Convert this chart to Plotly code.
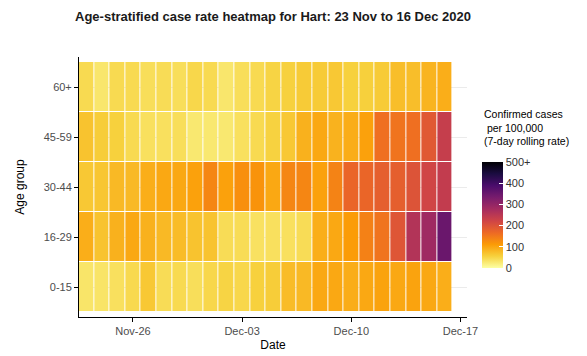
import plotly.graph_objects as go
import pandas as pd

# Dates and age groups
dates = pd.date_range("2020-11-23", "2020-12-16", freq="D").strftime("%Y-%m-%d").tolist()
age_groups = ["0-15", "16-29", "30-44", "45-59", "60+"]

# 7-day rolling case rate per 100,000
rate_0_15 = [32, 33, 38, 46, 65, 42, 45, 40, 48, 52, 48, 56,
             60, 77, 80, 98, 98, 93, 98, 103, 98, 103, 98, 92]
rate_16_29 = [92, 70, 88, 98, 88, 80, 77, 70, 70, 42, 42, 36,
              38, 38, 42, 92, 98, 110, 140, 155, 195, 260, 285, 350]
rate_30_44 = [65, 67, 80, 80, 92, 98, 98, 105, 135, 105, 125, 120,
              98, 135, 135, 105, 138, 172, 172, 182, 182, 198, 220, 240]
rate_45_59 = [70, 60, 56, 45, 38, 38, 40, 28, 28, 28, 38, 45,
              54, 65, 88, 98, 87, 93, 105, 160, 155, 160, 190, 235]
rate_60_plus = [45, 30, 45, 45, 40, 42, 40, 48, 45, 30, 40, 45,
                52, 55, 62, 62, 65, 56, 57, 62, 75, 75, 85, 92]

z = [rate_0_15, rate_16_29, rate_30_44, rate_45_59, rate_60_plus]

cbar_ticks = [0, 100, 200, 300, 400, 500]
cbar_labels = ["0", "100", "200", "300", "400", "500+"]

font = "Liberation Sans, Arial, sans-serif"

# the page body adds an 8px offset, so the figure is 8px smaller
W, H = 587 - 8, 356 - 8
# panel in page pixels: x 79..467, y 57..317
px_w, px_h = 388, 260

fig = go.Figure()
fig.add_trace(go.Heatmap(
    x=dates, y=age_groups, z=z,
    zmin=0, zmax=500,
    colorscale="Inferno", reversescale=True,
    xgap=1, ygap=1,
    hovertemplate="%{x}<br>%{y}: %{z}<extra></extra>",
    colorbar=dict(
        x=(482 - 79) / px_w, xanchor="left", xpad=0,
        y=(317 - 215) / px_h, yanchor="middle", ypad=0,
        lenmode="pixels", len=106, thickness=21,
        outlinewidth=0,
        tickvals=cbar_ticks, ticktext=cbar_labels,
        ticks="inside", ticklen=4, tickcolor="white",
        tickfont=dict(size=11, color="#333333", family=font),
    ),
))

fig.update_layout(
    width=W, height=H,
    margin=dict(l=79 - 8, r=W - (467 - 8), t=57 - 8, b=H - (317 - 8), autoexpand=False),
    paper_bgcolor="white", plot_bgcolor="white",
    font=dict(family=font),
    title=dict(
        text="<b>Age-stratified case rate heatmap for Hart: 23 Nov to 16 Dec 2020</b>",
        x=(273 - 8) / W, xanchor="center", y=1 - (16 - 8) / H, yanchor="middle",
        font=dict(size=13, color="#1a1a1a"),
    ),
    xaxis=dict(
        type="date", automargin=False,
        range=["2020-11-22 13:00", "2020-12-17 10:00"],
        tickvals=["2020-11-26", "2020-12-03", "2020-12-10", "2020-12-17"],
        tickformat="%b-%d",
        showgrid=False, zeroline=False,
        showline=True, linecolor="black", linewidth=1,
        ticks="outside", ticklen=4, tickcolor="black",
        tickfont=dict(size=11, color="#4d4d4d"),
        title=dict(text="Date", font=dict(size=12, color="black"), standoff=4),
    ),
    yaxis=dict(
        type="category", automargin=False,
        range=[-0.6, 4.6],
        showgrid=True, gridcolor="#ebebeb", gridwidth=1,
        zeroline=False,
        showline=True, linecolor="black", linewidth=1,
        ticks="outside", ticklen=4, tickcolor="black",
        tickfont=dict(size=11, color="#4d4d4d"),
        title=dict(text="Age group", font=dict(size=12, color="black"), standoff=16),
    ),
    annotations=[dict(
        text="Confirmed cases<br> per 100,000<br>(7-day rolling rate)",
        xref="paper", yref="paper",
        x=(482 - 79) / px_w, y=(317 - 106) / px_h,
        xanchor="left", yanchor="top", align="left", showarrow=False,
        font=dict(size=10.5, color="black"),
    )],
)

fig.write_html("out.html")
